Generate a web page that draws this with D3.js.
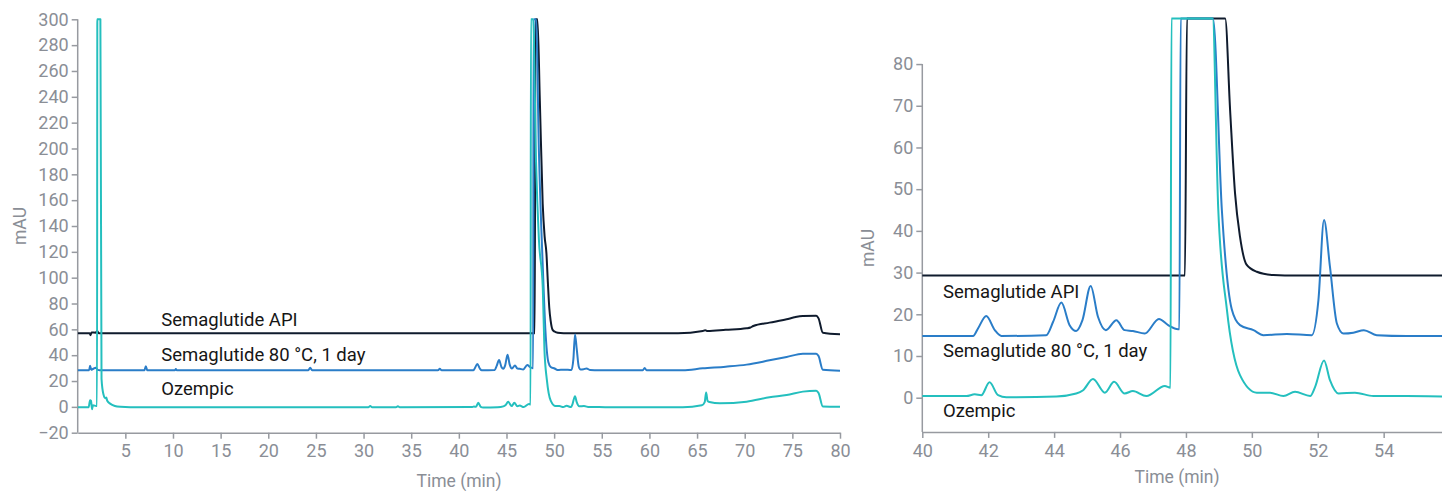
<!DOCTYPE html>
<html>
<head>
<meta charset="utf-8">
<script src="https://cdn.jsdelivr.net/npm/d3@7"></script>
<style>
    body { margin: 0; background: #fff; }
    svg { display: block; font-family: Roboto, "Noto Sans", sans-serif; }
    .axis text { fill: #8a8e96; font-size: 18px; font-family: Roboto, sans-serif; }
    .axis path, .axis line { stroke: #979aa0; stroke-width: 1.5; }
    .title { fill: #8a8e96; font-size: 17.5px; }
    .name { fill: #161616; font-size: 18.5px; }
    .trace { fill: none; stroke-width: 2; stroke-linejoin: round; }
</style>
</head>
<body>
<div id="chart"></div>
<script>
// samples, top to bottom
const seriesNames = ["Semaglutide API", "Semaglutide 80 °C, 1 day", "Ozempic"];
const seriesColors = ["#0f1b2d", "#2a7dc8", "#24bfbe"];

// [time (min), mAU above own baseline]
const apiSignal = [
    [0, 0], [1.25, 0], [1.35, -1.5], [1.45, 0.6], [1.9, 0.4], [2.05, 1.8], [2.2, 0],
    [10, 0], [20, 0], [30, 0], [40, 0], [47.97, 0],
    [48.03, 420], [48.25, 330], [48.5, 180], [48.8, 100], [49.0, 75], [49.19, 62],
    [49.34, 39.7], [49.49, 19.7], [49.64, 9.3], [49.84, 2.6], [50.15, 0.9], [50.65, 0.1], [51, 0],
    [63, 0], [65.6, 1.7], [65.85, 2.4], [66.1, 1.7], [68, 2.6], [70.2, 3.8], [70.6, 4.4], [70.9, 5.6],
    [72.6, 8.2], [74.4, 10.8], [75.2, 12.3], [76.1, 13.4], [77.5, 13.6], [77.75, 11.5], [78.2, 0.4], [80, -0.8]
];
const heatSignal = [
    [0, 0], [1.2, 0], [1.3, 3.6], [1.42, 0.5], [1.6, 1], [1.9, 2], [2.1, 0.3], [2.3, 0],
    [7.0, 0], [7.15, 3.1], [7.3, 0], [10.2, 0], [10.3, 1], [10.4, 0], [24.2, 0], [24.4, 1.9], [24.6, 0],
    [37.8, 0], [38.0, 1.2], [38.2, 0],
    [41.54, 0], [41.69, 1.8], [41.94, 4.8], [42.2, 1.4], [42.4, 0], [43.76, 0.2], [43.97, 3.4],
    [44.22, 8.0], [44.47, 2.6], [44.67, 1.2], [44.86, 3.8], [45.11, 12.0], [45.33, 4.6], [45.57, 1.4],
    [45.89, 3.8], [46.14, 1.4], [46.39, 1.2], [46.75, 0.6], [47.18, 4.1], [47.46, 2.6], [47.76, 1.6], [47.8, 1.6],
    [47.84, 420], [48.1, 300], [48.4, 170], [48.82, 78], [49.09, 30.2], [49.39, 6.4], [49.64, 2.6],
    [50.05, 1.4], [50.35, 0.2], [51.06, 0.5], [51.82, 0.2], [52.02, 8.6], [52.19, 27.8], [52.37, 16.6],
    [52.58, 3.0], [52.78, 0.6], [53.08, 0.8], [53.4, 1.4], [53.79, 0.2], [54.7, 0], [56, 0],
    [59.3, 0], [59.5, 1.8], [59.7, 0], [63.5, 0], [65.6, 1.5], [68, 2.8], [70.2, 4.4], [72.6, 7.7],
    [74.4, 10.3], [76.1, 12.9], [77.5, 12.9], [77.75, 11], [78.2, 0.4], [80, -0.4]
];
const ozempicSignal = [
    [0, 0], [1.15, 0], [1.3, 5.5], [1.4, 5], [1.5, -1.5], [1.6, 1.5], [1.95, 1], [2.03, 1],
    [2.06, 420], [2.38, 420], [2.5, 22], [2.7, 10], [2.9, 7], [3.0, 7.5], [3.1, 5], [3.4, 2.8], [3.9, 1],
    [4.5, 0.3], [5.5, 0], [30.5, 0], [30.7, 1], [30.9, 0], [33.4, 0], [33.6, 0.8], [33.8, 0],
    [41.34, 0.1], [41.59, 0.5], [41.79, 0.3], [42.04, 3.4], [42.3, 0.3], [42.55, -0.2], [44.07, 0],
    [44.67, 0.7], [44.88, 1.5], [45.18, 4.2], [45.54, 0.9], [45.82, 3.5], [46.14, 0.7], [46.39, 1.3],
    [46.8, 0.1], [47.36, 2.5], [47.53, 2.1],
    [47.56, 420], [47.8, 310], [48.1, 190], [48.4, 130], [48.81, 92], [48.98, 45], [49.24, 21],
    [49.64, 5.1], [50.15, 0.9], [50.55, 0.9], [50.96, 0.1], [51.31, 1.1], [51.77, 0.1], [51.92, 2.3],
    [52.19, 8.6], [52.37, 3.9], [52.63, 0.7], [53.13, 0.9], [53.69, 0.1], [54.7, 0.1], [56, 0],
    [63.5, 0], [65.5, 1.5], [65.8, 4], [65.95, 11.5], [66.1, 5], [66.3, 4], [67.4, 3], [70.2, 4.3],
    [72.6, 7.7], [74.4, 9.5], [76.1, 12.1], [77.5, 12.8], [77.75, 11], [78.2, 0.5], [80, 0.3]
];
const signals = [apiSignal, heatSignal, ozempicSignal];

// baselines the traces are stacked on
const leftOffsets = [57, 28.3, -0.3];
const rightOffsets = [29.3, 14.8, 0.3];

// tick labels
const leftTimeTicks = [5, 10, 15, 20, 25, 30, 35, 40, 45, 50, 55, 60, 65, 70, 75, 80];
const leftMauTicks = [-20, 0, 20, 40, 60, 80, 100, 120, 140, 160, 180, 200, 220, 240, 260, 280, 300];
const rightTimeTicks = [40, 42, 44, 46, 48, 50, 52, 54];
const rightMauTicks = [0, 10, 20, 30, 40, 50, 60, 70, 80];

const W = 1442, H = 491;
const svg = d3.select("#chart").append("svg").attr("width", W).attr("height", H);

const panels = [
    {   id: "left", xDomain: [0, 80], xRange: [77.7, 840], yDomain: [-20, 300], yRange: [432.7, 19.3],
        xTicks: leftTimeTicks, yTicks: leftMauTicks, offsets: leftOffsets,
        labelT: 8.77, labelAt: [62.5, 35.5, 9.2],
        yTitle: [26, 226], xTitle: [459, 487] },
    {   id: "right", xDomain: [40, 55.77], xRange: [922.3, 1442], yDomain: [-8.2, 90.9], yRange: [431.9, 18.6],
        xTicks: rightTimeTicks, yTicks: rightMauTicks, offsets: rightOffsets,
        labelT: 40.63, labelAt: [24.0, 9.8, -4.6],
        yTitle: [874, 248], xTitle: [1177, 483] }
];

panels.forEach(drawPanel);

function drawPanel(p) {
    const x = d3.scaleLinear().domain(p.xDomain).range(p.xRange);
    const y = d3.scaleLinear().domain(p.yDomain).range(p.yRange).clamp(true);   // detector saturates -> flat top
    const g = svg.append("g").attr("id", p.id);

    // clip only left/right so the flat tops stay visible
    g.append("clipPath").attr("id", "clip_" + p.id)
        .append("rect")
        .attr("x", p.xRange[0]).attr("y", 0)
        .attr("width", p.xRange[1] - p.xRange[0]).attr("height", p.yRange[0]);

    const xAxis = d3.axisBottom(x).tickValues(p.xTicks).tickSize(6).tickSizeOuter(0).tickPadding(6);
    g.append("g").attr("class", "axis")
        .attr("transform", `translate(0,${p.yRange[0]})`)
        .call(xAxis);

    const yAxis = d3.axisLeft(y).tickValues(p.yTicks).tickSize(6).tickSizeOuter(0).tickPadding(3);
    const gy = g.append("g").attr("class", "axis")
        .attr("transform", `translate(${p.xRange[0]},0)`)
        .call(yAxis);
    // axis line stops at the last tick
    gy.select(".domain").attr("d", `M0,${y(p.yTicks[p.yTicks.length - 1])}V${p.yRange[0]}`);

    g.append("text").attr("class", "title")
        .attr("transform", `translate(${p.yTitle[0]},${p.yTitle[1]}) rotate(-90)`)
        .attr("text-anchor", "middle")
        .text("mAU");
    g.append("text").attr("class", "title")
        .attr("x", p.xTitle[0]).attr("y", p.xTitle[1])
        .attr("text-anchor", "middle")
        .text("Time (min)");

    const traces = g.append("g").attr("clip-path", `url(#clip_${p.id})`);
    signals.forEach((sig, i) => {
        const line = d3.line()
            .x(d => x(d[0]))
            .y(d => y(d[1] + p.offsets[i]))
            .curve(d3.curveMonotoneX);
        traces.append("path")
            .attr("class", "trace")
            .attr("stroke", seriesColors[i])
            .attr("d", line(sig));
    });

    g.selectAll("text.name").data(seriesNames).join("text")
        .attr("class", "name")
        .attr("x", x(p.labelT))
        .attr("y", (d, i) => y(p.labelAt[i]))
        .text(d => d);
}
</script>
</body>
</html>
